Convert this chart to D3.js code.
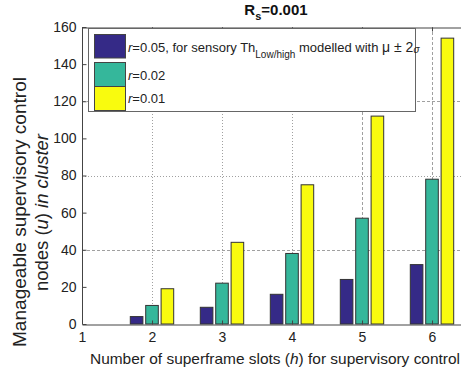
<!DOCTYPE html>
<html>
<head>
<meta charset="utf-8">
<script src="https://cdn.jsdelivr.net/npm/d3@7"></script>
<style>
  html, body { margin: 0; padding: 0; background: #fff; }
  svg { display: block; font-family: "Liberation Sans", Arial, sans-serif; }
</style>
</head>
<body>
<svg id="chart" width="461" height="376"></svg>
<script>
// Superframe slots (h) and manageable nodes per threshold ratio r
const slots = [2, 3, 4, 5, 6];
const nodesR005 = [4, 9, 16, 24, 32];
const nodesR002 = [10, 22, 38, 57, 78];
const nodesR001 = [19, 44, 75, 112, 154];

const xTicks = [1, 2, 3, 4, 5, 6];
const yTicks = [0, 20, 40, 60, 80, 100, 120, 140, 160];
const hGrid = [40, 80, 120];

const seriesColors = ["#352a87", "#35b79b", "#f9fb0e"];
const seriesValues = [nodesR005, nodesR002, nodesR001];

const FONT = "'Liberation Sans', Arial, sans-serif";
const svg = d3.select("#chart");
const mLeft = 82, mTop = 27, mBottom = 324, mRight = 467;

const x = d3.scaleLinear().domain([1, 6.5]).range([mLeft, mRight]);
const y = d3.scaleLinear().domain([0, 160]).range([mBottom, mTop]);

// grid lines
const grid = svg.append("g").attr("stroke", "#a0a0a0").attr("stroke-width", 1).attr("fill", "none");
grid.selectAll("line.v").data(slots).join("line")
  .attr("x1", d => Math.round(x(d)) + 0.5).attr("x2", d => Math.round(x(d)) + 0.5)
  .attr("y1", mTop).attr("y2", mBottom)
  .attr("stroke-dasharray", d => d >= 5 ? "3,2" : "1,2");
grid.selectAll("line.h").data(hGrid).join("line")
  .attr("x1", mLeft).attr("x2", mRight)
  .attr("y1", d => Math.round(y(d)) + 0.5).attr("y2", d => Math.round(y(d)) + 0.5)
  .attr("stroke-dasharray", d => d === 80 ? "1,2" : "3,2");

// grouped bars
const offset = 0.22, barW = 0.18;
seriesValues.forEach((vals, si) => {
  svg.append("g").selectAll("rect").data(slots.map((s, i) => ({ s, v: vals[i] }))).join("rect")
    .attr("x", d => x(d.s + (si - 1) * offset - barW / 2))
    .attr("width", x(1 + barW) - x(1))
    .attr("y", d => y(d.v))
    .attr("height", d => y(0) - y(d.v))
    .attr("fill", seriesColors[si])
    .attr("stroke", "#333")
    .attr("stroke-width", 1);
});

// axes
const yAxis = d3.axisLeft(y).tickValues(yTicks).tickSize(-4).tickPadding(6);
const gy = svg.append("g").attr("transform", `translate(${mLeft + 0.5},0)`).call(yAxis);
const xAxis = d3.axisBottom(x).tickValues(xTicks).tickFormat(d3.format("d")).tickSize(-4).tickPadding(8).tickSizeOuter(0);
const gx = svg.append("g").attr("transform", `translate(0,${mBottom + 0.5})`).call(xAxis);
const xTop = d3.axisTop(x).tickValues(xTicks).tickSize(-4).tickFormat("").tickSizeOuter(0);
const gt = svg.append("g").attr("transform", `translate(0,${mTop + 0.5})`).call(xTop);
[gy, gx, gt].forEach(g => {
  g.selectAll("path").attr("stroke", "#444");
  g.selectAll("line").attr("stroke", "#444");
  g.selectAll("text").attr("fill", "#222").style("font-size", "14px").style("font-family", FONT);
});
gy.select(".domain").attr("d", `M0,${mTop}V${mBottom}`);

// legend
const lg = svg.append("g");
lg.append("rect").attr("x", 88.5).attr("y", 28.5).attr("width", 327).attr("height", 83)
  .attr("fill", "#fff").attr("stroke", "#666").attr("stroke-width", 1);
const swY = [34.5, 62.5, 86.5], swH = [23.5, 24, 24];
seriesColors.forEach((c, i) => {
  lg.append("rect").attr("x", 94.5).attr("y", swY[i]).attr("width", 31).attr("height", swH[i])
    .attr("fill", c).attr("stroke", "#444").attr("stroke-width", 1);
});
const txtBase = [52, 80, 103];
const t1 = lg.append("text").attr("x", 128).attr("y", txtBase[0]).attr("fill", "#222").style("font-size", "13px");
t1.append("tspan").attr("font-style", "italic").text("r");
t1.append("tspan").text("=0.05, for sensory Th");
t1.append("tspan").attr("dy", 6).style("font-size", "10px").text("Low/high");
t1.append("tspan").attr("dy", -6).text(" modelled with ");
t1.append("tspan").style("font-size", "14px").text("μ ± 2");
t1.append("tspan").attr("font-style", "italic").style("font-size", "10px").attr("dy", 1).text("σ");
["=0.02", "=0.01"].forEach((s, i) => {
  const t = lg.append("text").attr("x", 128).attr("y", txtBase[i + 1]).attr("fill", "#222").style("font-size", "13px");
  t.append("tspan").attr("font-style", "italic").text("r");
  t.append("tspan").text(s);
});

// title
const title = svg.append("text").attr("x", 276).attr("y", 15).attr("text-anchor", "middle")
  .attr("fill", "#111").style("font-size", "15px").style("font-weight", "bold");
title.append("tspan").text("R");
title.append("tspan").attr("dy", 5).style("font-size", "11px").text("s");
title.append("tspan").attr("dy", -5).text("=0.001");

// x label
const xl = svg.append("text").attr("x", 90).attr("y", 364)
  .attr("textLength", 370).attr("lengthAdjust", "spacingAndGlyphs")
  .attr("fill", "#222").style("font-size", "15px");
xl.append("tspan").text("Number of superframe slots (");
xl.append("tspan").attr("font-style", "italic").text("h");
xl.append("tspan").text(") for supervisory control");

// y label (two lines)
const yl = svg.append("g").attr("transform", "translate(0,212) rotate(-90)");
yl.append("text").attr("x", -135).attr("y", 26)
  .attr("textLength", 270).attr("lengthAdjust", "spacingAndGlyphs")
  .attr("fill", "#222").style("font-size", "17.5px").text("Manageable supervisory control");
const yl2 = yl.append("text").attr("x", -79).attr("y", 48)
  .attr("textLength", 157).attr("lengthAdjust", "spacingAndGlyphs")
  .attr("fill", "#222").style("font-size", "17.5px");
yl2.append("tspan").text("nodes (");
yl2.append("tspan").attr("font-style", "italic").text("u");
yl2.append("tspan").text(") ");
yl2.append("tspan").attr("font-style", "italic").text("in cluster");
</script>
</body>
</html>
